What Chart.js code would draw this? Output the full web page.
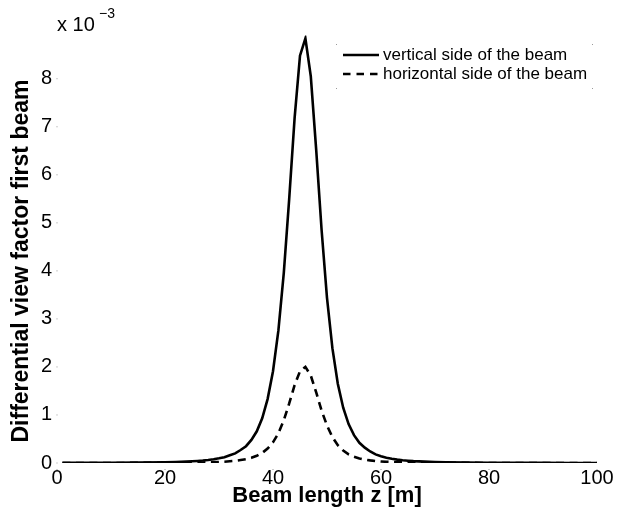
<!DOCTYPE html>
<html>
<head>
<meta charset="utf-8">
<script src="https://cdn.jsdelivr.net/npm/chart.js@4.4.0/dist/chart.umd.min.js"></script>
<style>
html,body{margin:0;padding:0;background:#fff;}
#wrap{width:618px;height:517px;position:relative;}
</style>
</head>
<body>
<div id="wrap"><canvas id="c" width="618" height="517"></canvas></div>
<script>
// Beam length positions z [m]
const zValues = [1, 5, 10, 15, 20, 22, 24, 25, 26, 27, 28, 29, 30, 31, 32, 33, 34, 35, 36, 37, 38, 39, 40,
  41, 42, 43, 44, 45, 46, 47, 48, 49, 50, 51, 52, 53, 54, 55, 56, 57, 58, 59, 60, 61, 62, 63, 64, 65,
  66, 67, 68, 70, 72, 76, 80, 85, 90, 95, 100];
// Differential view factor (x 10^-3), vertical side of the beam
const verticalSide = [0.002, 0.003, 0.004, 0.008, 0.016, 0.021, 0.030, 0.035, 0.042, 0.051, 0.063, 0.078, 0.097,
  0.12, 0.16, 0.20, 0.27, 0.35, 0.48, 0.66, 0.93, 1.33, 1.91,
  2.76, 3.96, 5.50, 7.18, 8.48, 8.84, 8.05, 6.52, 4.85, 3.44, 2.39, 1.65, 1.15, 0.81, 0.58, 0.42, 0.32, 0.24, 0.18, 0.14, 0.11, 0.089, 0.071, 0.058, 0.048,
  0.039, 0.033, 0.028, 0.020, 0.015, 0.0085, 0.005, 0.003, 0.002, 0.0013, 0.001];
// Differential view factor (x 10^-3), horizontal side of the beam
const horizontalSide = [0.0005, 0.0006, 0.001, 0.002, 0.0036, 0.0047, 0.0068, 0.0079, 0.0095, 0.0115, 0.014, 0.018, 0.022,
  0.027, 0.036, 0.045, 0.061, 0.079, 0.108, 0.15, 0.21, 0.30, 0.43,
  0.62, 0.89, 1.24, 1.62, 1.91, 2.00, 1.82, 1.47, 1.09, 0.78, 0.54, 0.37, 0.26, 0.18, 0.13, 0.095, 0.072, 0.054, 0.041, 0.032, 0.025, 0.020, 0.016, 0.013, 0.011,
  0.009, 0.0075, 0.0063, 0.0045, 0.0034, 0.0019, 0.0011, 0.0007, 0.0005, 0.0003, 0.0002];

const xTicks = [0, 20, 40, 60, 80, 100];
const yTicks = [0, 1, 2, 3, 4, 5, 6, 7, 8];
const seriesNames = ['vertical side of the beam', 'horizontal side of the beam'];
const xTitle = 'Beam length z [m]';
const yTitle = 'Differential view factor first beam';
const yMultiplierBase = 'x 10';
const yMultiplierExp = '\u22123';

const FONT = '"Liberation Sans", Arial, Helvetica, sans-serif';

const overlay = {
  id: 'overlay',
  afterDraw(chart) {
    const ctx = chart.ctx;
    const a = chart.chartArea;
    const xs = chart.scales.x, ys = chart.scales.y;
    ctx.save();
    ctx.fillStyle = '#000';
    // axis titles
    ctx.textAlign = 'center';
    ctx.textBaseline = 'middle';
    ctx.font = 'bold 22px ' + FONT;
    ctx.fillText(xTitle, (a.left + a.right) / 2, 496);
    ctx.save();
    ctx.font = 'bold 23px ' + FONT;
    ctx.translate(22, 261);
    ctx.rotate(-Math.PI / 2);
    ctx.fillText(yTitle, 0, 0);
    ctx.restore();
    // exponent label
    ctx.textAlign = 'left';
    ctx.textBaseline = 'alphabetic';
    ctx.font = '20px ' + FONT;
    ctx.fillText(yMultiplierBase, 57, 31);
    ctx.font = '14px ' + FONT;
    ctx.fillText(yMultiplierExp, 99, 18);
    // faint tick dots
    ctx.fillStyle = '#9a9a9a';
    yTicks.forEach(v => ctx.fillRect(a.left - 0.5, ys.getPixelForValue(v) - 0.5, 1, 1));
    xTicks.forEach(v => ctx.fillRect(xs.getPixelForValue(v) - 0.5, a.bottom + 6, 1, 1));
    [[336, 44], [592, 44], [336, 88], [592, 88]].forEach(p => ctx.fillRect(p[0], p[1], 1, 1));
    // legend
    ctx.strokeStyle = '#000';
    ctx.lineWidth = 2.5;
    const rows = [55, 74];
    chart.data.datasets.forEach((ds, i) => {
      ctx.beginPath();
      ctx.setLineDash(ds.borderDash ? [7.5, 6] : []);
      ctx.moveTo(343, rows[i]);
      ctx.lineTo(379, rows[i]);
      ctx.stroke();
    });
    ctx.setLineDash([]);
    ctx.fillStyle = '#000';
    ctx.font = '17px ' + FONT;
    ctx.textBaseline = 'middle';
    chart.data.datasets.forEach((ds, i) => ctx.fillText(ds.label, 383, rows[i]));
    ctx.restore();
  }
};

const toPoints = arr => zValues.map((z, i) => ({ x: z, y: arr[i] }));

new Chart(document.getElementById('c'), {
  type: 'line',
  data: {
    datasets: [
      { label: seriesNames[0], data: toPoints(verticalSide), borderColor: '#000', borderWidth: 2.6,
        pointRadius: 0, tension: 0, fill: false, order: 0 },
      { label: seriesNames[1], data: toPoints(horizontalSide), borderColor: '#000', borderWidth: 2.6,
        borderDash: [8, 5.5], pointRadius: 0, tension: 0, fill: false, order: 1 }
    ]
  },
  options: {
    responsive: false,
    animation: false,
    devicePixelRatio: 1,
    layout: { padding: { top: 35.5, right: 21, left: 0, bottom: 0 } },
    plugins: { legend: { display: false }, tooltip: { enabled: false } },
    scales: {
      x: {
        type: 'linear', min: 0, max: 100,
        afterBuildTicks: s => { s.ticks = xTicks.map(v => ({ value: v })); },
        afterFit: s => { s.height = 54; },
        grid: { display: false, drawTicks: false },
        border: { display: false },
        ticks: { font: { family: FONT, size: 20 }, color: '#000', padding: 3, maxRotation: 0, autoSkip: false }
      },
      y: {
        type: 'linear', min: 0, max: 8.9,
        afterBuildTicks: s => { s.ticks = yTicks.map(v => ({ value: v })); },
        afterFit: s => { s.width = 57; },
        grid: { display: false, drawTicks: false },
        border: { display: false },
        ticks: { font: { family: FONT, size: 20 }, color: '#000', padding: 5 }
      }
    }
  },
  plugins: [overlay]
});
</script>
</body>
</html>
